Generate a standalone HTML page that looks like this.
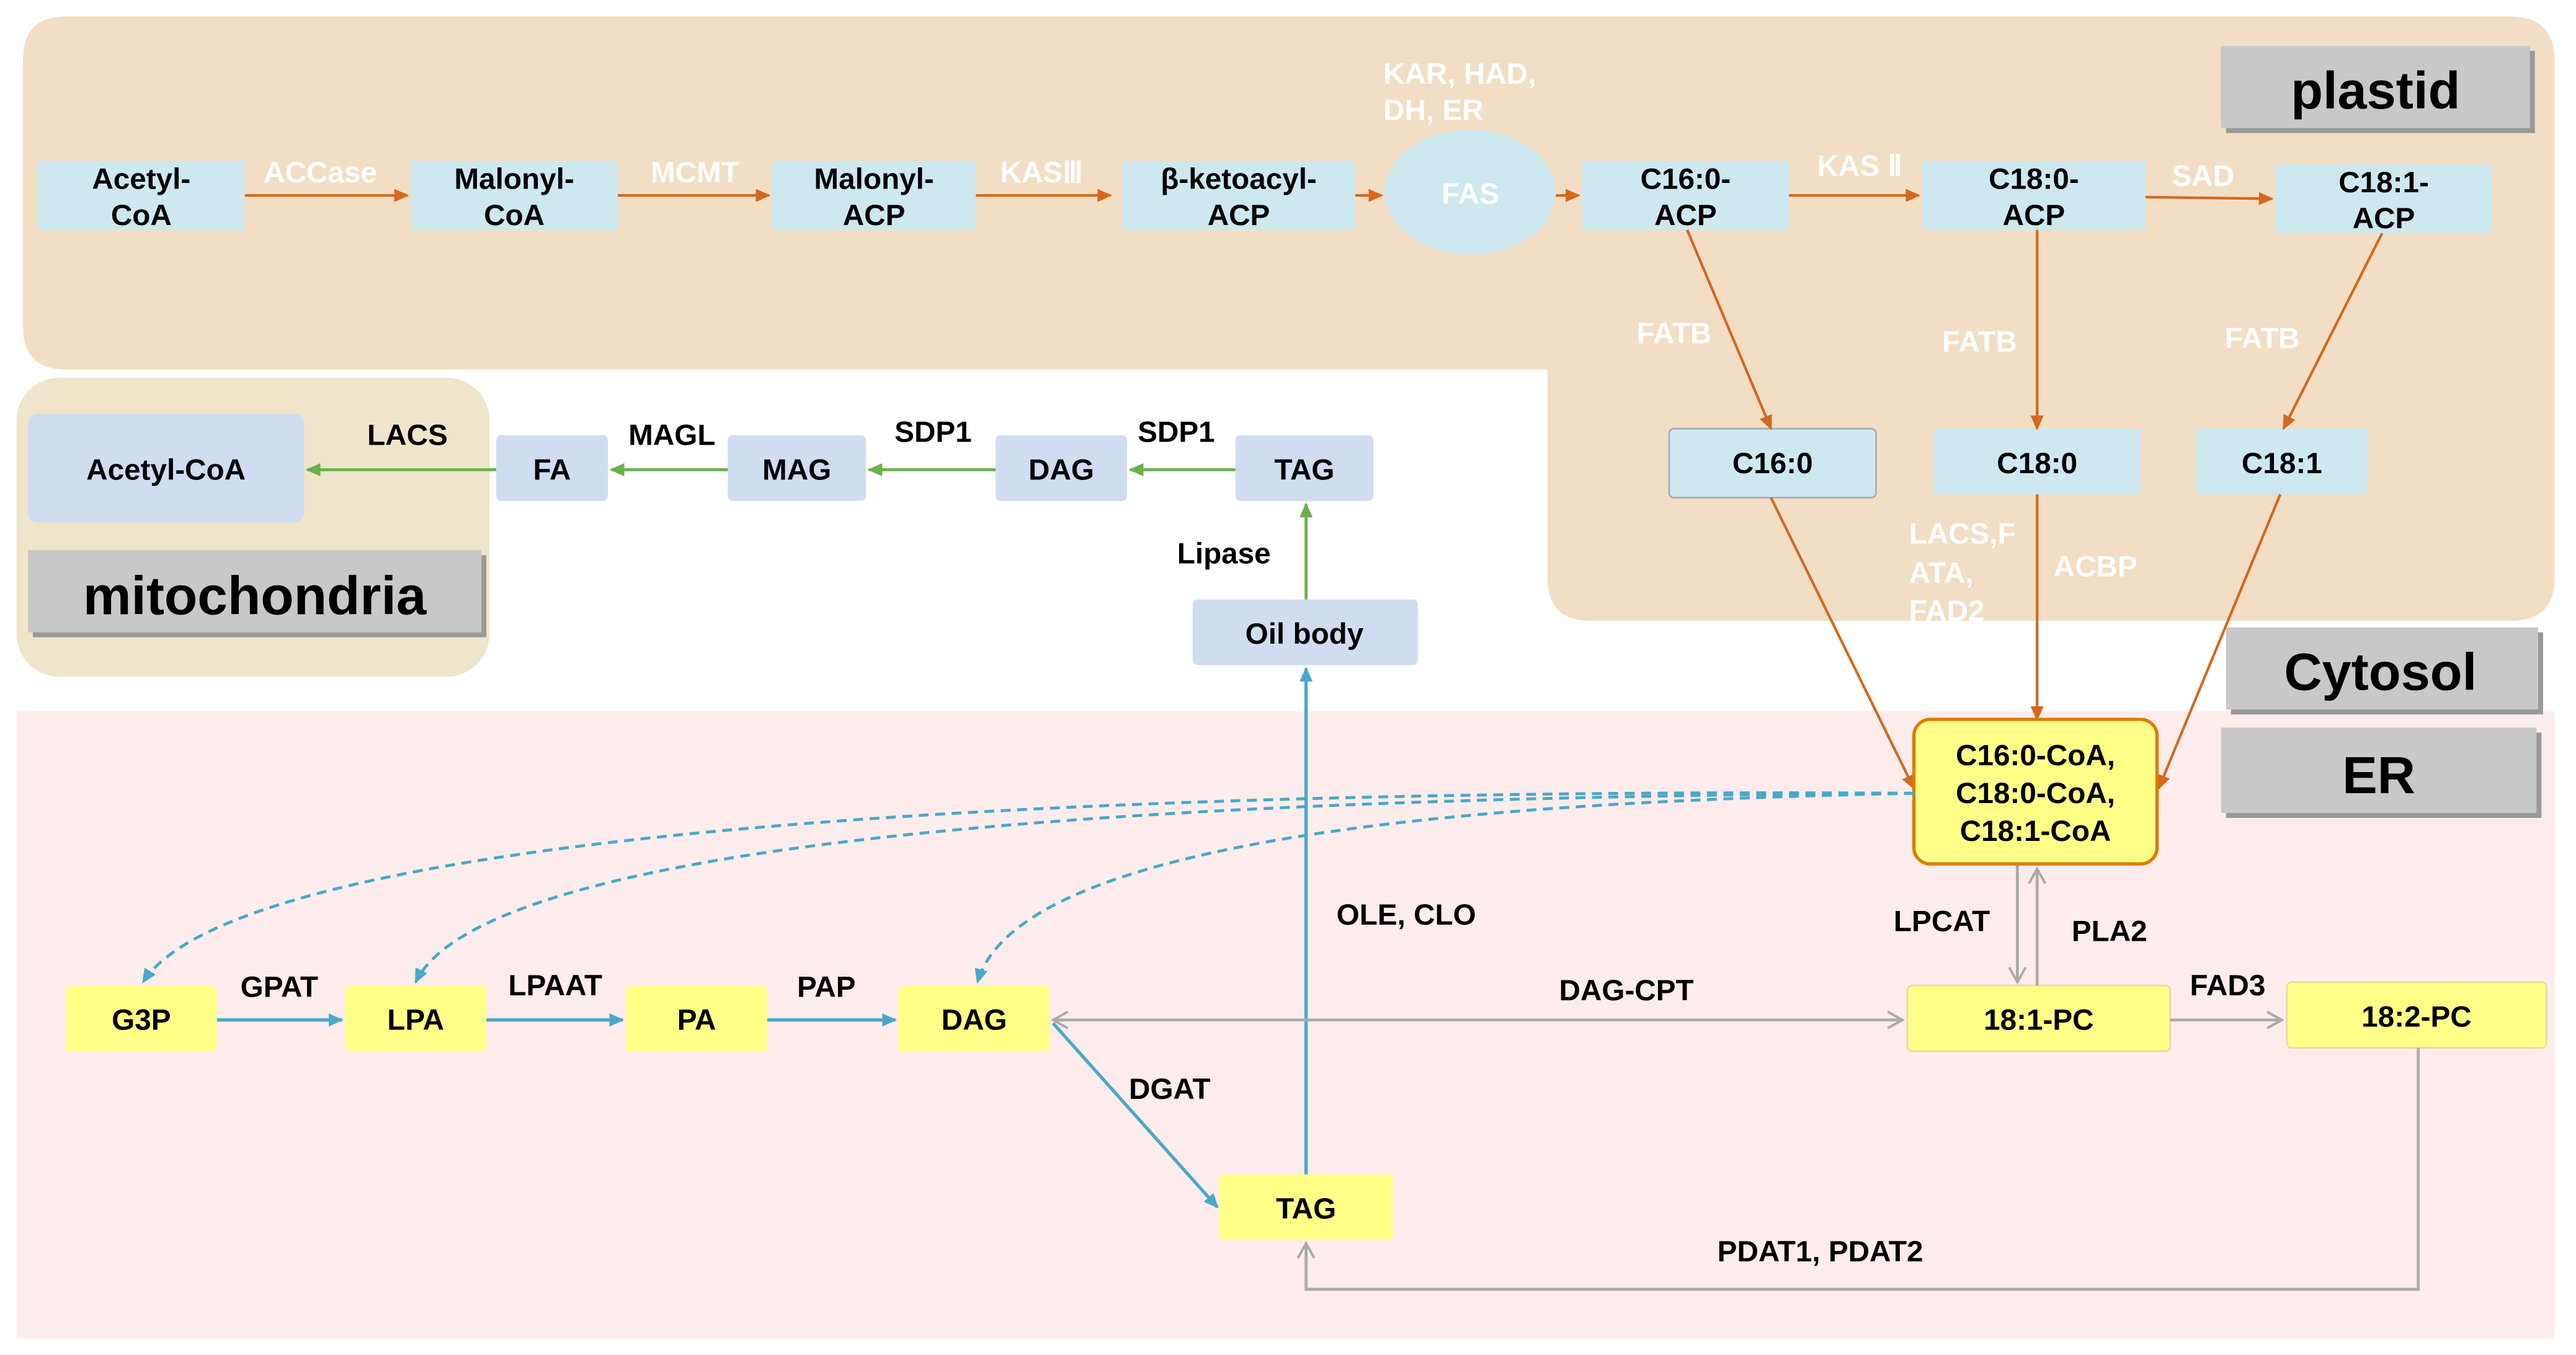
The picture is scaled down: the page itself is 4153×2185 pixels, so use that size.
<!DOCTYPE html>
<html><head><meta charset="utf-8"><style>
html,body{margin:0;padding:0;background:#fff}
svg{display:block}
text{font-family:"Liberation Sans",sans-serif;font-weight:bold}
</style></head><body>
<svg width="4153" height="2185" viewBox="0 0 1568 825" xmlns="http://www.w3.org/2000/svg">
<defs>
<marker id="ao" markerWidth="10" markerHeight="10" refX="8" refY="5" orient="auto" markerUnits="userSpaceOnUse"><path d="M0,1 L9,5 L0,9 z" fill="#d2691e"/></marker>
<marker id="ag" markerWidth="10" markerHeight="10" refX="8" refY="5" orient="auto" markerUnits="userSpaceOnUse"><path d="M0,1 L9,5 L0,9 z" fill="#6ab04c"/></marker>
<marker id="ab" markerWidth="10" markerHeight="10" refX="8" refY="5" orient="auto" markerUnits="userSpaceOnUse"><path d="M0,1 L9,5 L0,9 z" fill="#4aa8c8"/></marker>
<marker id="ay" markerWidth="12" markerHeight="12" refX="10" refY="6" orient="auto" markerUnits="userSpaceOnUse"><path d="M1,1 L10,6 L1,11" fill="none" stroke="#aaa" stroke-width="1.5"/></marker>
<marker id="ays" markerWidth="12" markerHeight="12" refX="2" refY="6" orient="auto" markerUnits="userSpaceOnUse"><path d="M11,1 L2,6 L11,11" fill="none" stroke="#aaa" stroke-width="1.5"/></marker>
</defs>
<path d="M40,10 H1528 Q1555,10 1555,37 V352 Q1555,378 1528,378 H968 Q942,378 942,352 V225 H40 Q14,225 14,199 V36 Q14,10 40,10 Z" fill="#f2dec4"/>
<rect x="10" y="230" width="288" height="182" rx="26" fill="#eee5ca"/>
<rect x="10" y="433" width="1545" height="382" fill="#fdecec"/>
<rect x="1355" y="31" width="188" height="50" fill="#999"/>
<rect x="1352" y="28" width="188" height="50" fill="#c8c8c8"/>
<text x="1446" y="66" font-size="32" text-anchor="middle" fill="#000">plastid</text>
<rect x="1358" y="385" width="190" height="50" fill="#999"/>
<rect x="1355" y="382" width="190" height="50" fill="#c8c8c8"/>
<text x="1449" y="420" font-size="32" text-anchor="middle" fill="#000">Cytosol</text>
<rect x="1355" y="446" width="192" height="52" fill="#999"/>
<rect x="1352" y="443" width="192" height="52" fill="#c8c8c8"/>
<text x="1448" y="483" font-size="32" text-anchor="middle" fill="#000">ER</text>
<rect x="20" y="338" width="276" height="50" fill="#999"/>
<rect x="17" y="335" width="276" height="50" fill="#c8c8c8"/>
<text x="155" y="374" font-size="33" text-anchor="middle" fill="#000">mitochondria</text>
<g fill="#cde8ef">
<rect x="23" y="98" width="126" height="42"/><rect x="250" y="98" width="126" height="42"/>
<rect x="470" y="98" width="124" height="42"/><rect x="683" y="98" width="142" height="42"/>
<ellipse cx="895" cy="117" rx="52" ry="38"/>
<rect x="963" y="98" width="126" height="42"/><rect x="1170" y="98" width="136" height="42"/>
<rect x="1385" y="100" width="132" height="42"/>
<rect x="1016" y="261" width="126" height="42" rx="3" stroke="#aab" stroke-width="1"/>
<rect x="1177" y="261" width="126" height="40"/><rect x="1337" y="261" width="104" height="40"/>
</g>
<g font-size="18" text-anchor="middle" fill="#000">
<text x="86" y="115">Acetyl-</text><text x="86" y="137">CoA</text>
<text x="313" y="115">Malonyl-</text><text x="313" y="137">CoA</text>
<text x="532" y="115">Malonyl-</text><text x="532" y="137">ACP</text>
<text x="754" y="115">β-ketoacyl-</text><text x="754" y="137">ACP</text>
<text x="1026" y="115">C16:0-</text><text x="1026" y="137">ACP</text>
<text x="1238" y="115">C18:0-</text><text x="1238" y="137">ACP</text>
<text x="1451" y="117">C18:1-</text><text x="1451" y="139">ACP</text>
<text x="1079" y="288">C16:0</text><text x="1240" y="288">C18:0</text><text x="1389" y="288">C18:1</text>
</g>
<g font-size="18" fill="#fff">
<text x="895" y="124" text-anchor="middle">FAS</text>
<text x="195" y="111" text-anchor="middle">ACCase</text>
<text x="423" y="111" text-anchor="middle">MCMT</text>
<text x="634" y="111" text-anchor="middle">KASⅢ</text>
<text x="842" y="51">KAR, HAD,</text><text x="842" y="73">DH, ER</text>
<text x="1132" y="107" text-anchor="middle">KAS Ⅱ</text>
<text x="1341" y="113" text-anchor="middle">SAD</text>
<text x="1019" y="209" text-anchor="middle">FATB</text>
<text x="1205" y="214" text-anchor="middle">FATB</text>
<text x="1377" y="212" text-anchor="middle">FATB</text>
<text x="1162" y="331">LACS,F</text><text x="1162" y="355">ATA,</text><text x="1162" y="378">FAD2</text>
<text x="1250" y="351">ACBP</text>
</g>
<g stroke="#d2691e" stroke-width="1.6" fill="none" marker-end="url(#ao)">
<line x1="149" y1="119" x2="248" y2="119"/><line x1="376" y1="119" x2="468" y2="119"/>
<line x1="594" y1="119" x2="676" y2="119"/><line x1="825" y1="119" x2="841" y2="119"/>
<line x1="947" y1="119" x2="961" y2="119"/><line x1="1089" y1="119" x2="1168" y2="119"/>
<line x1="1306" y1="120" x2="1383" y2="121"/>
<line x1="1027" y1="140" x2="1078" y2="261"/><line x1="1240" y1="140" x2="1240" y2="261"/>
<line x1="1450" y1="142" x2="1390" y2="261"/>
<line x1="1078" y1="303" x2="1165" y2="480"/><line x1="1240" y1="301" x2="1240" y2="438"/>
<line x1="1388" y1="301" x2="1314" y2="480"/>
</g>
<g fill="#d0dcf0">
<rect x="17" y="252" width="168" height="66" rx="6"/><rect x="302" y="265" width="68" height="40" rx="3"/>
<rect x="443" y="265" width="84" height="40" rx="3"/><rect x="606" y="265" width="80" height="40" rx="3"/>
<rect x="752" y="265" width="84" height="40" rx="3"/><rect x="726" y="365" width="137" height="40" rx="3"/>
</g>
<g font-size="18" text-anchor="middle" fill="#000">
<text x="101" y="292">Acetyl-CoA</text><text x="336" y="292">FA</text><text x="485" y="292">MAG</text>
<text x="646" y="292">DAG</text><text x="794" y="292">TAG</text><text x="794" y="392">Oil body</text>
<text x="248" y="271">LACS</text><text x="409" y="271">MAGL</text><text x="568" y="269">SDP1</text>
<text x="716" y="269">SDP1</text><text x="745" y="343">Lipase</text>
</g>
<g stroke="#6ab04c" stroke-width="1.8" fill="none" marker-end="url(#ag)">
<line x1="302" y1="286" x2="187" y2="286"/><line x1="443" y1="286" x2="372" y2="286"/>
<line x1="606" y1="286" x2="529" y2="286"/><line x1="752" y1="286" x2="688" y2="286"/>
<line x1="795" y1="365" x2="795" y2="307"/>
</g>
<rect x="1165" y="438" width="148" height="88" rx="10" fill="#ffff88" stroke="#e07a00" stroke-width="2"/>
<g font-size="18" text-anchor="middle" fill="#000">
<text x="1239" y="466">C16:0-CoA,</text><text x="1239" y="489">C18:0-CoA,</text><text x="1239" y="512">C18:1-CoA</text>
</g>
<g fill="#ffff88">
<rect x="40" y="600" width="92" height="40" rx="3"/><rect x="210" y="600" width="86" height="40" rx="3"/>
<rect x="381" y="600" width="86" height="40" rx="3"/><rect x="547" y="600" width="92" height="40" rx="3"/>
<rect x="742" y="715" width="106" height="40" rx="3"/>
<rect x="1161" y="600" width="160" height="40" rx="3" stroke="#e8d8a0"/>
<rect x="1392" y="598" width="158" height="40" rx="3" stroke="#e8d8a0"/>
</g>
<g font-size="18" text-anchor="middle" fill="#000">
<text x="86" y="627">G3P</text><text x="253" y="627">LPA</text><text x="424" y="627">PA</text>
<text x="593" y="627">DAG</text><text x="795" y="742">TAG</text><text x="1241" y="627">18:1-PC</text>
<text x="1471" y="625">18:2-PC</text>
<text x="170" y="607">GPAT</text><text x="338" y="606">LPAAT</text><text x="503" y="607">PAP</text>
<text x="990" y="609">DAG-CPT</text><text x="712" y="669">DGAT</text><text x="856" y="563">OLE, CLO</text>
<text x="1182" y="567">LPCAT</text><text x="1284" y="573">PLA2</text><text x="1356" y="606">FAD3</text>
<text x="1108" y="768">PDAT1, PDAT2</text>
</g>
<g stroke="#4aa8c8" stroke-width="2" fill="none" marker-end="url(#ab)">
<line x1="132" y1="621" x2="208" y2="621"/><line x1="296" y1="621" x2="379" y2="621"/>
<line x1="467" y1="621" x2="545" y2="621"/><line x1="641" y1="623" x2="741" y2="735"/>
<line x1="795" y1="715" x2="795" y2="407"/>
</g>
<g stroke="#4aa8c8" stroke-width="1.8" fill="none" stroke-dasharray="6,4" marker-end="url(#ab)">
<path d="M1165,483 C700,480 150,500 87,598"/>
<path d="M1165,483 C800,485 300,500 253,598"/>
<path d="M1165,483 C900,488 620,510 595,598"/>
</g>
<g stroke="#aaa" stroke-width="1.8" fill="none">
<line x1="641" y1="621" x2="1158" y2="621" marker-end="url(#ay)" marker-start="url(#ays)"/>
<line x1="1228" y1="527" x2="1228" y2="598" marker-end="url(#ay)"/>
<line x1="1240" y1="600" x2="1240" y2="529" marker-end="url(#ay)"/>
<line x1="1321" y1="621" x2="1389" y2="621" marker-end="url(#ay)"/>
<polyline points="1472,638 1472,785 795,785 795,757" marker-end="url(#ay)"/>
</g>
</svg>
</body></html>
